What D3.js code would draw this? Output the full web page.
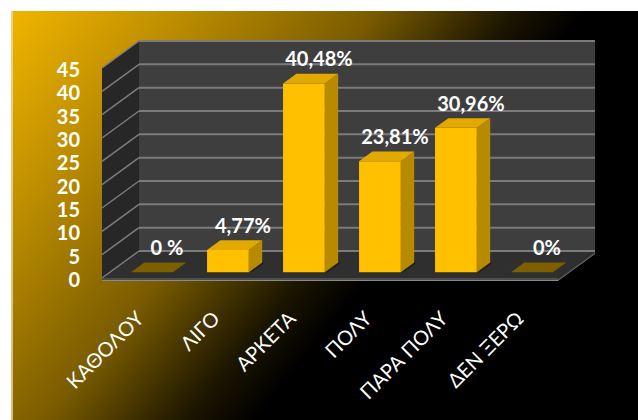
<!DOCTYPE html>
<html>
<head>
<meta charset="utf-8">
<script src="https://cdn.jsdelivr.net/npm/d3@7"></script>
<style>
  html, body { margin: 0; padding: 0; background: #fff; }
  svg { display: block; }
</style>
</head>
<body>
<svg id="chart" width="638" height="420"></svg>
<script>
// Survey answers and their shares (%)
const categories = ["ΚΑΘΟΛΟΥ", "ΛΙΓΟ", "ΑΡΚΕΤΑ", "ΠΟΛΥ", "ΠΑΡΑ ΠΟΛΥ", "ΔΕΝ ΞΕΡΩ"];
const values = [0, 4.77, 40.48, 23.81, 30.96, 0];
const valueLabels = ["0 %", "4,77%", "40,48%", "23,81%", "30,96%", "0%"];
const yTicks = [0, 5, 10, 15, 20, 25, 30, 35, 40, 45];

const W = 638, H = 420;
const svg = d3.select("#chart");

// ---- background panel with diagonal gold-to-black fill ----
const defs = svg.append("defs");
const bg = defs.append("linearGradient")
  .attr("id", "bgGrad")
  .attr("gradientUnits", "userSpaceOnUse")
  .attr("x1", 12).attr("y1", 11)
  .attr("x2", 12 + 0.778 * 470).attr("y2", 11 + 0.628 * 470);
[[0, "#f0b500"], [0.25, "#c39200"], [0.45, "#9a7400"], [0.6, "#7a5c00"],
 [0.72, "#4a3800"], [0.84, "#1a1400"], [0.95, "#000000"]]
  .forEach(([o, c]) => bg.append("stop").attr("offset", o).attr("stop-color", c));

svg.append("rect").attr("x", 11).attr("y", 11).attr("width", W - 11).attr("height", H - 11)
  .attr("fill", "url(#bgGrad)");
svg.append("line").attr("x1", 12).attr("x2", 12).attr("y1", 11).attr("y2", H)
  .attr("stroke", "#f3dca0").attr("stroke-width", 1.5);

// ---- 3D geometry: front plane scales plus a depth vector ----
const DX = 37, DY = -27;
const x = d3.scaleBand().domain(categories).range([102, 558]);
const y = d3.scaleLinear().domain([0, 45]).range([278, 68]);
const P = (u, v, d) => [u + DX * d, y(v) + DY * d];
const xL = x.range()[0], xR = x.range()[1];

const poly = pts => "M" + pts.map(p => p.join(",")).join("L") + "Z";

// floor
svg.append("path")
  .attr("d", poly([P(xL, 0, 0), P(xR, 0, 0), P(xR, 0, 1), P(xL, 0, 1)]))
  .attr("fill", "#2f2f2f");
// floor slab front edge
svg.append("rect").attr("x", xL).attr("y", y(0)).attr("width", xR - xL).attr("height", 3)
  .attr("fill", "#4d4d4d");
svg.append("path")
  .attr("d", poly([[xR, y(0)], [xR, y(0) + 3], P(xR, 0, 1).map((c, i) => c + (i ? 3 : 0)), P(xR, 0, 1)]))
  .attr("fill", "#3a3a3a");
svg.append("line").attr("x1", xL).attr("x2", xR).attr("y1", y(0) + 2.5).attr("y2", y(0) + 2.5)
  .attr("stroke", "#8a8a8a").attr("stroke-width", 1.2);
svg.append("line")
  .attr("x1", xR).attr("y1", y(0) + 2.5)
  .attr("x2", P(xR, 0, 1)[0]).attr("y2", P(xR, 0, 1)[1] + 2.5)
  .attr("stroke", "#6a6a6a").attr("stroke-width", 1);

// side wall
svg.append("path")
  .attr("d", poly([P(xL, 0, 0), P(xL, 45, 0), P(xL, 45, 1), P(xL, 0, 1)]))
  .attr("fill", "#272727");
// back wall
svg.append("path")
  .attr("d", poly([P(xL, 0, 1), P(xL, 45, 1), P(xR, 45, 1), P(xR, 0, 1)]))
  .attr("fill", "#3e3e3e");

// gridlines on back and side walls
const grid = svg.append("g").attr("stroke", "#7c7c7c").attr("stroke-width", 2).attr("fill", "none");
grid.selectAll("line.back").data(yTicks).join("line").attr("class", "back")
  .attr("x1", d => P(xL, d, 1)[0]).attr("x2", d => P(xR, d, 1)[0])
  .attr("y1", d => P(xL, d, 1)[1]).attr("y2", d => P(xR, d, 1)[1]);
grid.selectAll("line.side").data(yTicks).join("line").attr("class", "side")
  .attr("stroke-width", 1.5)
  .attr("x1", d => P(xL, d, 0)[0]).attr("x2", d => P(xL, d, 1)[0])
  .attr("y1", d => P(xL, d, 0)[1]).attr("y2", d => P(xL, d, 1)[1]);

// ---- y axis labels ----
const yAxis = d3.axisLeft(y).tickValues(yTicks).tickSize(0).tickPadding(0).tickFormat(d3.format("d"));
const gy = svg.append("g").attr("transform", "translate(80,2)").call(yAxis);
gy.select(".domain").remove();
gy.selectAll("text")
  .attr("fill", "#ffffff")
  .style("font-family", "Lato, 'Open Sans', sans-serif")
  .style("font-weight", "bold")
  .style("font-size", "20px");

// ---- columns ----
const bw = x.bandwidth();
const D0 = 0.21, D1 = 0.57;
const barL = c => x(c) + bw * 0.28;
const barR = c => x(c) + bw * 0.83;

const bars = svg.append("g");
categories.forEach((c, i) => {
  const v = values[i];
  const g = bars.append("g");
  if (v > 0) {
    // shadow on floor
    g.append("path")
      .attr("d", poly([P(barL(c), 0, D0), P(barR(c) + 3, 0, D0), P(barR(c) + 3, 0, D1), P(barL(c), 0, D1)]))
      .attr("fill", "#1c1c1c").attr("opacity", 0.8);
    // front face
    g.append("path")
      .attr("d", poly([P(barL(c), 0, D0), P(barR(c), 0, D0), P(barR(c), v, D0), P(barL(c), v, D0)]))
      .attr("fill", "#ffc000");
    // right side face
    g.append("path")
      .attr("d", poly([P(barR(c), 0, D0), P(barR(c), 0, D1), P(barR(c), v, D1), P(barR(c), v, D0)]))
      .attr("fill", "#b78a00");
    // top face
    g.append("path")
      .attr("d", poly([P(barL(c), v, D0), P(barR(c), v, D0), P(barR(c), v, D1), P(barL(c), v, D1)]))
      .attr("fill", "#e2a900");
  } else {
    // zero-height column shows only its flat top
    g.append("path")
      .attr("d", poly([P(barL(c), 0, D0), P(barR(c), 0, D0), P(barR(c), 0, D1), P(barL(c), 0, D1)]))
      .attr("fill", "#7e5f00");
  }
});

// ---- value labels ----
svg.append("g").selectAll("text").data(categories).join("text")
  .attr("x", (c) => (barL(c) + barR(c)) / 2 + DX * D0 + 15)
  .attr("y", (c, i) => y(values[i]) + DY * D0 - 25)
  .attr("text-anchor", "middle")
  .attr("dominant-baseline", "central")
  .attr("fill", "#ffffff")
  .style("font-family", "Lato, 'Open Sans', sans-serif")
  .style("font-weight", "bold")
  .style("font-size", "20px")
  .text((c, i) => valueLabels[i]);

// ---- category labels ----
svg.append("g").selectAll("text").data(categories).join("text")
  .attr("transform", c => `translate(${x(c) + bw / 2 + 5},${y(0) + 42}) rotate(-45)`)
  .attr("text-anchor", "end")
  .attr("fill", "#ffffff")
  .style("font-family", "Lato, 'Open Sans', sans-serif")
  .style("font-size", "20px")
  .text(c => c);
</script>
</body>
</html>
